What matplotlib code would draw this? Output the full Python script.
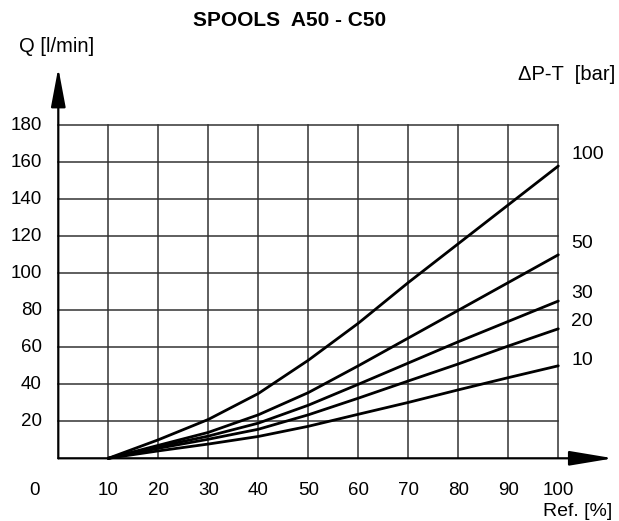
import matplotlib
matplotlib.use("Agg")
import matplotlib.pyplot as plt

plt.rcParams['font.family'] = ['Liberation Sans', 'DejaVu Sans']

ref = [10, 20, 30, 40, 50, 60, 70, 80, 90, 100]
q100 = [0, 10, 21, 35, 53, 73, 95, 116, 137, 158]
q50 = [0, 7, 14, 23.5, 35.5, 50, 65, 80, 95, 110]
q30 = [0, 6.3, 12, 19, 28.7, 40, 51.5, 63, 74, 85]
q20 = [0, 5.4, 10.3, 15.7, 23.5, 32.5, 41.8, 51, 60.7, 70]
q10 = [0, 4, 7.7, 11.8, 17.3, 23.8, 30.2, 37, 43.6, 50]
series = [("100", q100), ("50", q50), ("30", q30), ("20", q20), ("10", q10)]
label_offsets = {"100": 6, "50": 6, "30": 4, "20": 4, "10": 3}

xticks = [10, 20, 30, 40, 50, 60, 70, 80, 90, 100]
yticks = [20, 40, 60, 80, 100, 120, 140, 160, 180]

W, H = 619, 521
fig = plt.figure(figsize=(W / 100, H / 100), dpi=100)
# data: X 0 -> px 58.3, 5 px per unit; Q 0 -> py 458.3, 1.85 px per unit
x0px, y0px = 58.3, 458.3
sx, sy = 5.0, 1.85
xmin, xmax = -12, 112
ymin, ymax = -30, 215
left = (x0px + xmin * sx) / W
width = (xmax - xmin) * sx / W
bottom = (H - y0px + ymin * sy) / H
height = (ymax - ymin) * sy / H
ax = fig.add_axes([left, bottom, width, height])
ax.set_xlim(xmin, xmax)
ax.set_ylim(ymin, ymax)
ax.axis('off')

gc = '#333333'
for xv in xticks:
    ax.plot([xv, xv], [0, 180], color=gc, lw=1.1, zorder=1)
for yv in yticks:
    ax.plot([0, 100], [yv, yv], color=gc, lw=1.1, zorder=1)

# axes with arrows
ax.annotate('', xy=(111, 0), xytext=(0, 0),
            arrowprops=dict(arrowstyle='-|>,head_length=2.7,head_width=0.45',
                            mutation_scale=10, lw=1.6, color='black',
                            shrinkA=0, shrinkB=0), zorder=3)
ax.annotate('', xy=(0, 211), xytext=(0, 0),
            arrowprops=dict(arrowstyle='-|>,head_length=2.4,head_width=0.45',
                            mutation_scale=10, lw=1.6, color='black',
                            shrinkA=0, shrinkB=0), zorder=3)

for name, q in series:
    ax.plot(ref, q, color='black', lw=2.0, solid_capstyle='round', zorder=4)
    ax.text(102.6, q[-1] + label_offsets[name], name, fontsize=14,
            ha='left', va='center')

fs = 13.5
for xv in xticks:
    ax.text(xv, -17.5, str(xv), fontsize=fs, ha='center', va='center')
ax.text(-4.7, -17.5, '0', fontsize=fs, ha='center', va='center')
for yv in yticks:
    ax.text(-3.3, yv, str(yv), fontsize=fs, ha='right', va='center')

ax.text(110.8, -28.5, 'Ref. [%]', fontsize=14, ha='right', va='center')
fig.text(19 / W, 1 - 46 / H, 'Q [l/min]', fontsize=14.5, ha='left', va='center')
fig.text(290 / W, 1 - 20 / H, 'SPOOLS  A50 - C50', fontsize=15,
         fontweight='bold', ha='center', va='center')
fig.text(615 / W, 1 - 74 / H, 'ΔP-T  [bar]', fontsize=14.5, ha='right', va='center')

fig.savefig('out.png', dpi=100)
